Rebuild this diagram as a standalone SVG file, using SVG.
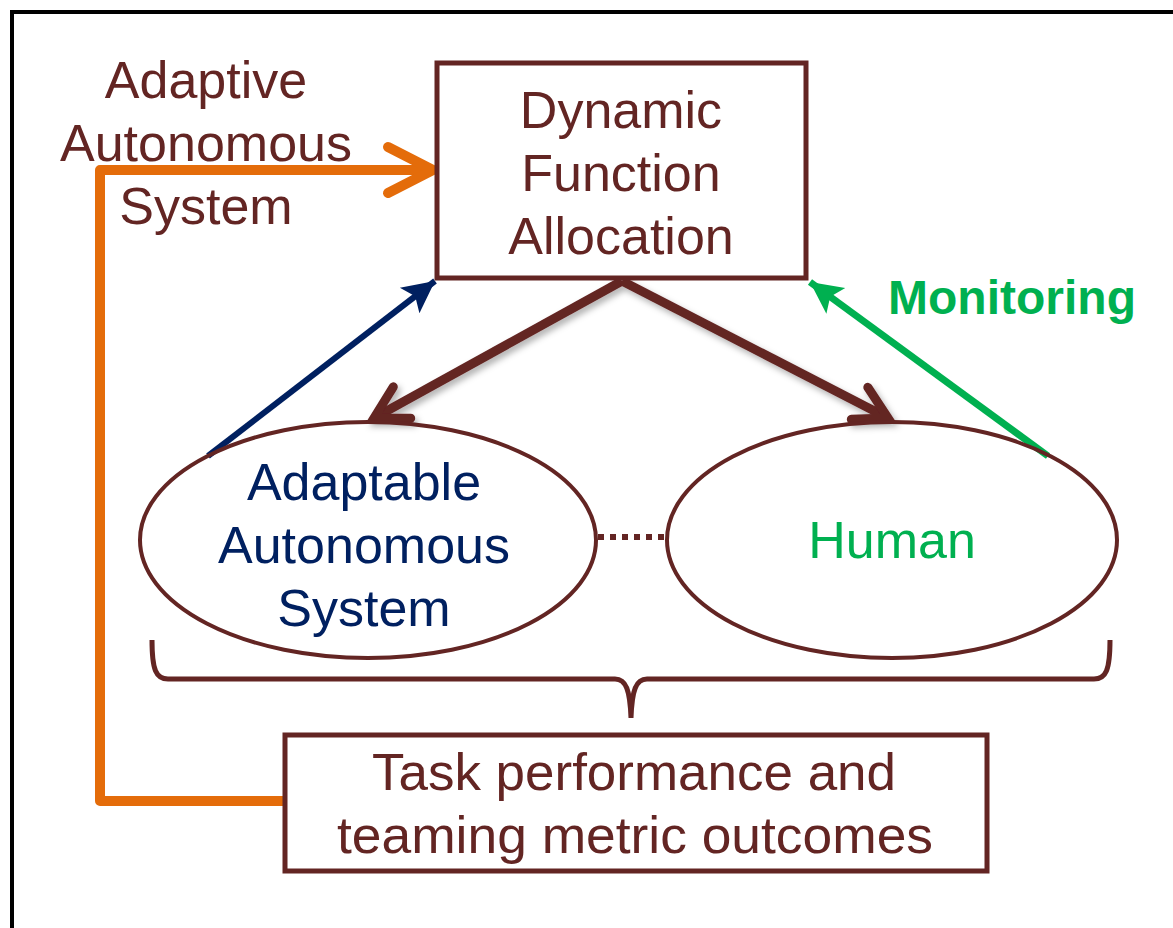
<svg xmlns="http://www.w3.org/2000/svg" width="1173" height="928" viewBox="0 0 1173 928">
<style>
.t{font-family:"Liberation Sans",Arial,sans-serif;font-size:52px;text-anchor:middle}
.br{fill:#632523}
.nv{fill:#002060}
.gr{fill:#00B050}
.box{fill:#fff;stroke:#632523;stroke-width:5}
</style>
<defs>
<filter id="sh" x="-20%" y="-20%" width="140%" height="140%">
<feDropShadow dx="3" dy="4" stdDeviation="3" flood-color="#000" flood-opacity="0.3"/>
</filter>
<marker id="openBr" markerUnits="userSpaceOnUse" markerWidth="60" markerHeight="60" refX="40" refY="30" orient="auto" viewBox="0 0 60 60">
<path d="M8,12 L40,30 L8,48" fill="none" stroke="#632523" stroke-width="9" stroke-linecap="round" stroke-linejoin="miter"/>
</marker>
<marker id="triNv" markerUnits="userSpaceOnUse" markerWidth="40" markerHeight="40" refX="32" refY="20" orient="auto" viewBox="0 0 40 40">
<path d="M0,4 L32,20 L0,36 L7,20 Z" fill="#002060"/>
</marker>
<marker id="triGr" markerUnits="userSpaceOnUse" markerWidth="40" markerHeight="40" refX="32" refY="20" orient="auto" viewBox="0 0 40 40">
<path d="M0,4 L32,20 L0,36 L7,20 Z" fill="#00B050"/>
</marker>
</defs>
<rect x="12" y="12" width="1200" height="1000" fill="#fff" stroke="#000" stroke-width="4"/>

<g id="connectors">
<path d="M284,801 L100,801 L100,170 L430,170" fill="none" stroke="#E46C0A" stroke-width="10" stroke-linejoin="round"/>
<path d="M388,147 L433,170 L388,193" fill="none" stroke="#E46C0A" stroke-width="10" stroke-linecap="round" stroke-linejoin="miter"/>
<g filter="url(#sh)">
<line x1="622" y1="281" x2="374" y2="418" stroke="#632523" stroke-width="9" marker-end="url(#openBr)"/>
<line x1="622" y1="281" x2="888" y2="418" stroke="#632523" stroke-width="9" marker-end="url(#openBr)"/>
</g>
<line x1="208" y1="456" x2="435" y2="281" stroke="#002060" stroke-width="6" marker-end="url(#triNv)"/>
<line x1="1048" y1="456" x2="810" y2="282" stroke="#00B050" stroke-width="7" marker-end="url(#triGr)"/>
<line x1="598" y1="537" x2="666" y2="537" stroke="#632523" stroke-width="6" stroke-dasharray="6,6"/>
<path d="M152,640 C152,670 156,679 168,679 L615,679 C626,679 630,690 631,718 C632,690 636,679 647,679 L1094,679 C1106,679 1110,670 1110,640" fill="none" stroke="#632523" stroke-width="5"/>
</g>

<g id="label-adaptive">
<text class="t br" x="206" y="98">Adaptive</text>
<text class="t br" x="206" y="161">Autonomous</text>
<text class="t br" x="206" y="224">System</text>
</g>

<g id="dfa">
<rect class="box" x="437" y="63" width="369" height="215"/>
<text class="t br" x="621" y="128">Dynamic</text>
<text class="t br" x="621" y="191">Function</text>
<text class="t br" x="621" y="254">Allocation</text>
</g>

<g id="label-monitoring">
<text x="1012" y="314" font-family="Liberation Sans, Arial, sans-serif" font-size="48" font-weight="bold" fill="#00B050" text-anchor="middle">Monitoring</text>
</g>

<g id="aas">
<ellipse cx="368" cy="540" rx="228" ry="118" fill="none" stroke="#632523" stroke-width="4"/>
<text class="t nv" x="364" y="500">Adaptable</text>
<text class="t nv" x="364" y="563">Autonomous</text>
<text class="t nv" x="364" y="626">System</text>
</g>

<g id="human">
<ellipse cx="892" cy="540" rx="225" ry="118" fill="none" stroke="#632523" stroke-width="4"/>
<text class="t gr" x="892" y="558">Human</text>
</g>

<g id="outcomes">
<rect class="box" x="285" y="735" width="702" height="136"/>
<text class="t br" x="634" y="790" textLength="524" lengthAdjust="spacingAndGlyphs">Task performance and</text>
<text class="t br" x="635" y="853" textLength="596" lengthAdjust="spacingAndGlyphs">teaming metric outcomes</text>
</g>
</svg>
